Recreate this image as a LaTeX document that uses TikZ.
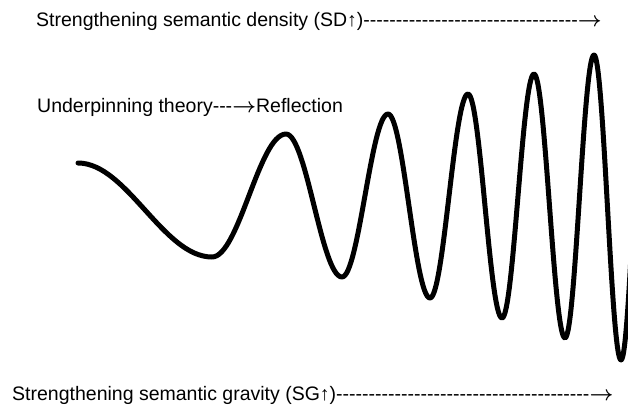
\documentclass[tikz,border=0pt]{standalone}
\usepackage{fontspec}
\setmainfont{Liberation Sans}[Ligatures=TeXOff]
\usetikzlibrary{positioning}

% a run of hyphens, then the arrow
\newcommand\dashrun[1]{\foreach \i in {1,...,#1}{-}}
\newcommand\toarrow{{\boldmath$\rightarrow$}}

\begin{document}
\begin{tikzpicture}[
    x=1pt, y=-1pt,
    heading/.style={font=\fontsize{19.5}{23}\selectfont, anchor=base west, inner sep=0pt},
    wave/.style={line width=5pt, line cap=round, line join=round},
]
\useasboundingbox (0,0) rectangle (628,408);
\clip (0,0) rectangle (628,408);

% Semantic density axis
\node[heading] (sd) at (36,26) {Strengthening semantic density (SD↑)\dashrun{33}\toarrow};

% Theory to reflection
\node[heading] (theory) at (37,112) {Underpinning theory---\toarrow Reflection};

% Semantic gravity axis
\node[heading] (sg) at (12,400) {Strengthening semantic gravity (SG↑)\dashrun{39}\toarrow};

% Semantic wave
\draw[wave] (78,163) foreach \x/\y/\d in {212/257/134, 286/134/74, 342/277/56,
    388/114/46, 430/298/42, 468/94/38, 502/318/34, 534/74/32, 565/338/31,
    594/55/29, 621/360/27, 647/36/26}
  { .. controls +(0.364*\d,0) and +(-0.364*\d,0) .. (\x,\y) };

\end{tikzpicture}
\end{document}
